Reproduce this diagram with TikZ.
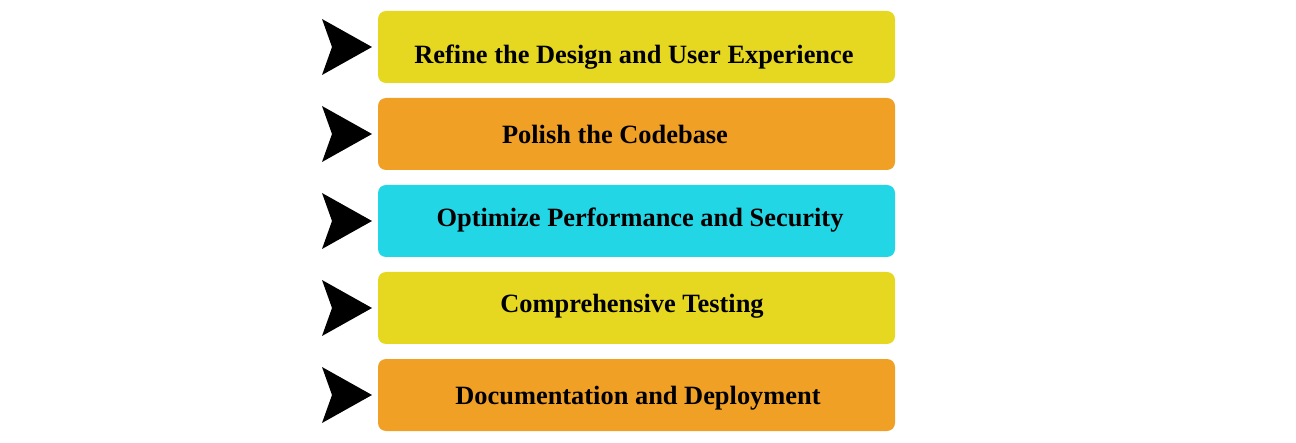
\documentclass[tikz,border=0pt]{standalone}
\usepackage{fontspec}
\setmainfont{Liberation Serif}
\usetikzlibrary{positioning}

\definecolor{stepyellow}{HTML}{E6D720}
\definecolor{steporange}{HTML}{F0A024}
\definecolor{stepcyan}{HTML}{22D6E6}

\begin{document}
\begin{tikzpicture}[
    x = 0.5pt, y = -0.5pt,
    box/.style = {minimum width=258.5pt, minimum height=36pt, rounded corners=4pt, inner sep=0pt, outer sep=0pt},
    lbl/.style = {font=\bfseries\fontsize{13.2}{16}\selectfont, inner sep=0pt},
    node distance = 7.5pt
]
\useasboundingbox (0,0) rectangle (1296,443);
\node (b1) [box, fill=stepyellow, anchor=north west] at (378,11) {};
\node (b2) [box, fill=steporange, below=of b1] {};
\node (b3) [box, fill=stepcyan, below=of b2] {};
\node (b4) [box, fill=stepyellow, below=of b3] {};
\node (b5) [box, fill=steporange, below=of b4] {};

\foreach \i/\dx/\dy/\txt in {1/-2.5/10/{Refine the Design and User Experience},
                              2/-21.5/0/{Polish the Codebase},
                              3/3.5/-1/{Optimize Performance and Security},
                              4/-4.5/-2/{Comprehensive Testing},
                              5/1.5/3/{Documentation and Deployment}}
    \node (t\i) [lbl] at ([shift={(\dx,\dy)}]b\i.center) {\txt};

% pointers in front of the steps
\foreach \i in {1,...,5}
    \fill[black, shift={(b\i.west)}] (-6,0) -- (-56,-28) -- (-46,0) -- (-56,28) -- cycle;
\end{tikzpicture}
\end{document}
